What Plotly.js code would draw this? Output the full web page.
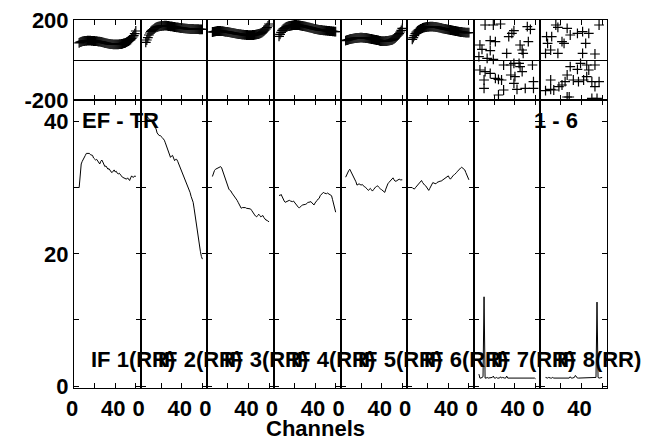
<!DOCTYPE html>
<html>
<head>
<meta charset="utf-8">
<script src="https://cdn.plot.ly/plotly-3.0.1.min.js"></script>
<style>html,body{margin:0;padding:0;background:#fff;}#chart{width:647px;height:442px;}</style>
</head>
<body>
<div id="chart"></div>
<script>
// Channel numbers for the smooth IFs
const channels = [5,6,7,8,9,10,11,12,13,14,15,16,17,18,19,20,21,22,23,24,25,26,27,28,29,30,31,32,33,34,35,36,37,38,39,40,41,42,43,44,45,46,47,48,49,50,51,52,53,54,55,56,57,58,59,60];

// Amplitudes (bottom panels)
const amp1 = [30.0,32.5,33.6,34.0,34.4,34.8,34.9,35.2,35.2,35.1, 35.2,35.0,35.0,34.9,34.5,34.3,34.2,34.3,34.0,33.8, 33.6,34.0,34.2,33.9,33.5,33.2,33.3,33.0,32.8,32.9, 32.6,32.4,32.3,32.6,32.7,32.4,32.5,32.2,32.1,32.2, 31.9,31.8,31.6,31.5,31.4,31.4,31.3,31.5,31.2,31.1, 31.5,31.8,31.6,31.6,31.8,31.7];
const amp2 = [40.9,40.8,40.6,40.5,40.3,40.2,40.0,39.8,39.5,39.2, 38.9,38.3,38.1,37.9,37.9,37.8,37.6,37.4,37.2,36.8, 36.4,35.8,35.3,34.9,34.6,34.8,34.9,34.5,34.1,34.3, 34.3,34.0,33.6,33.2,32.9,32.6,32.3,31.8,31.3,31.0, 30.6,30.3,29.8,29.3,28.7,28.3,27.8,26.8,25.6,24.5, 23.6,22.8,21.3,20.4,19.6,19.2];
const amp3 = [31.7,32.2,32.6,32.8,32.9,33.0,33.1,33.1,33.2,33.0, 32.5,32.0,31.6,31.0,30.6,30.0,29.8,29.6,29.5,29.2, 29.0,28.7,28.5,28.3,28.1,27.8,27.5,27.2,26.9,27.0, 27.0,27.1,27.0,26.9,26.9,26.8,26.8,26.8,26.6,26.3, 26.0,25.9,25.7,25.6,25.8,26.0,25.8,25.6,25.7,25.8, 25.5,25.3,25.1,25.1,24.9,24.9];
const amp4 = [28.9,28.8,29.0,28.6,28.3,28.0,27.8,27.9,28.0,28.1, 28.1,28.0,27.9,27.9,28.0,27.8,27.5,27.3,27.1,27.0, 27.0,27.2,27.3,27.4,27.4,27.5,27.5,27.6,27.8,27.8, 27.9,27.9,27.7,27.6,27.4,27.7,28.0,28.1,28.3,28.4, 28.8,29.0,29.1,29.3,29.2,29.1,29.1,29.2,29.1,29.1, 29.0,28.8,28.2,27.6,27.0,26.3];
const amp5 = [31.6,32.0,32.3,32.6,32.8,32.5,32.2,32.0,31.7,31.3, 30.9,30.4,30.5,30.6,30.5,30.4,30.5,30.3,30.2,30.1, 30.0,29.8,29.6,29.7,29.9,29.7,29.5,29.7,30.0,30.1, 30.2,30.3,30.1,29.9,29.8,29.7,29.6,29.4,29.3,29.8, 30.3,30.6,30.8,31.0,31.1,31.3,31.5,31.2,31.0,31.0, 31.1,31.2,31.3,31.2,31.2,31.2];
const amp6 = [30.0,29.9,29.8,30.0,30.2,30.4,30.6,30.7,30.9,31.1, 30.8,30.5,30.4,30.3,30.1,29.8,29.6,29.9,30.3,30.6, 30.8,30.7,30.6,30.6,30.8,30.9,30.9,31.0,31.0,31.1, 31.2,31.3,31.4,31.5,31.7,31.8,31.5,31.3,31.5,31.8, 31.9,32.0,32.1,32.3,32.5,32.7,32.8,33.0,33.1,33.0, 32.9,32.7,32.3,32.0,31.6,31.2];
const amp7 = [1.8,1.2,1.2,1.3,1.4,13.5,1.2,1.2,1.3,1.2, 1.2,1.3,1.2,1.3,1.5,1.2,1.2,1.3,1.2,1.2, 1.2,1.4,1.2,1.3,1.2,1.2,1.2,1.5,1.2,1.2, 1.3,1.2,1.2,1.2,1.3,1.2,1.2,1.2,1.2,1.3, 1.2,1.2,1.2,1.2,1.2,1.2,1.3,1.2,1.2,1.2, 1.2,1.2,1.2,1.2,1.2,1.1];
const amp8 = [1.3,1.2,1.2,1.3,1.2,1.2,1.2,1.3,1.2,1.2, 1.2,1.2,1.3,1.2,1.2,1.2,1.2,1.2,1.3,1.2, 1.2,1.2,1.3,1.2,1.4,1.2,1.2,1.2,1.3,1.6, 1.3,1.2,1.2,1.2,1.2,1.3,1.2,1.2,1.2,1.2, 1.3,1.2,1.2,1.2,1.2,1.2,1.2,1.2,1.2,1.3, 12.7,1.3,1.2,1.2,1.2,1.3];

// Phases (top panels), degrees
const ph1 = [86,89,91,93,94,95,96,96,97,97, 97,97,96,96,95,95,94,94,93,92, 92,91,90,88,87,85,84,83,82,81, 80,79,79,78,78,78,78,78,78,79, 79,80,81,83,84,86,89,92,95,98, 102,108,115,122,132,145];
const ph2 = [88,100,112,125,135,143,148,152,156,160, 163,165,167,168,169,170,171,171,172,172, 172,171,170,169,168,168,167,166,165,164, 163,163,162,161,160,160,159,158,158,157, 157,156,156,155,155,155,155,154,154,154, 154,154,153,153,153,153];
const ph3 = [140,141,142,143,144,145,145,145,145,144, 144,143,142,141,141,140,139,138,137,136, 135,134,133,132,131,130,129,129,128,127, 127,126,126,125,125,124,124,124,124,125, 125,126,127,128,129,130,132,134,137,141, 145,150,155,162,170,180];
const ph4 = [118,128,138,148,154,158,162,165,167,169, 170,171,172,173,174,175,175,175,174,174, 173,172,171,170,169,168,167,166,164,163, 162,161,159,158,156,155,154,153,152,151, 150,150,149,148,148,147,147,146,146,145, 144,144,143,143,142,142];
const ph5 = [97,99,100,102,104,105,106,107,108,109, 110,110,111,111,112,112,112,111,111,110, 110,109,108,107,106,105,104,103,102,101, 100,99,98,96,95,94,94,94,94,95, 95,96,97,98,99,100,103,106,110,115, 120,126,132,140,148,158];
const ph6 = [103,112,122,132,139,145,149,152,155,157, 160,162,163,164,165,166,166,167,167,167, 167,166,166,165,164,163,162,161,160,158, 157,156,155,154,153,152,151,150,149,148, 147,146,145,144,143,142,141,140,140,139, 138,138,137,137,137,137];
// Scattered phases of IF 7 and IF 8
const ch7 = [11,19,26,37,39,34,52,55,53,45,47,48,16,21,6,8,16,5,13,19,32, 6,11,10,10,16,21,24,27,29,36,39,44,45,47,57,36,40,39,29,24,50,58,58,42];
const ph7 = [175,175,180,133,147,117,167,153,92,75,50,33,97,92,75,53,47,17,8,3,33, -50,-58,-100,-142,-67,-92,-97,-100,-25,-25,-17,-17,-33,-58,-25,-75,-83,-117,-150,-175,-142,-108,-142,-147];
const ch8 = [15,17,26,57,6,11,21,29,36,41,47,44,23,7,10,5,17,41,53, 29,36,47,39,45,53,26,32,37,42,45,50,57,53,50,55,10,5,13,18,21,24,26,28,10];
const ph8 = [175,163,158,175,117,117,92,125,133,142,133,83,83,83,50,33,33,33,30, -33,-47,-50,-17,-25,-25,-75,-100,-108,-100,-83,-108,-108,-133,-192,-192,-147,-153,-150,-133,-125,-108,-185,-185,-100];

const ampSeries = [amp1,amp2,amp3,amp4,amp5,amp6,amp7,amp8];
const phaseX = [channels,channels,channels,channels,channels,channels,ch7,ch8];
const phaseY = [ph1,ph2,ph3,ph4,ph5,ph6,ph7,ph8];
const ifLabels = ['IF 1(RR)','IF 2(RR)','IF 3(RR)','IF 4(RR)','IF 5(RR)','IF 6(RR)','IF 7(RR)','IF 8(RR)'];
const xTickVals = [0,20,40,60];
const xTickText = ['0','','40',''];
const ampTickVals = [0,10,20,30,40];
const ampTickText = ['0','','20','','40'];
const phTickVals = [-200,200];
const phTickText = ['-200','200'];

const W = 647, H = 442;
const L = 74, R = 40, T = 20, B = 54;
const pw = W - L - R, ph = H - T - B;
const split = (388 - 100) / ph;
const FONT = {family: 'Liberation Sans, Arial, sans-serif', size: 22, color: '#000', weight: 'bold'};

const traces = [];
const layout = {
  width: W, height: H,
  margin: {l: L, r: R, t: T, b: B, pad: 0},
  paper_bgcolor: '#fff', plot_bgcolor: '#fff',
  showlegend: false,
  font: FONT,
  annotations: []
};

function baseAxis() {
  return {
    showline: true, linecolor: '#000', linewidth: 1, mirror: 'ticks',
    ticks: 'inside', ticklen: 5, tickwidth: 1, tickcolor: '#000',
    showgrid: false, zeroline: false, tickfont: FONT, fixedrange: true
  };
}

for (let i = 0; i < 8; i++) {
  const a = i + 1, p = i + 9;
  const dom = [i / 8, (i + 1) / 8];
  const ax = (n) => n === 1 ? 'x' : 'x' + n;
  const ay = (n) => n === 1 ? 'y' : 'y' + n;
  const kx = (n) => n === 1 ? 'xaxis' : 'xaxis' + n;
  const ky = (n) => n === 1 ? 'yaxis' : 'yaxis' + n;

  layout[kx(a)] = Object.assign(baseAxis(), {
    domain: dom, anchor: ay(a), range: [0, 64.7],
    tickmode: 'array', tickvals: xTickVals, ticktext: xTickText,
    showticklabels: true, ticklabelstandoff: 1, ticklabelshift: -2
  });
  layout[ky(a)] = Object.assign(baseAxis(), {
    domain: [0, split], anchor: ax(a), range: [-0.3, 43.28],
    tickmode: 'array', tickvals: ampTickVals, ticktext: ampTickText,
    showticklabels: i === 0
  });
  layout[kx(p)] = Object.assign(baseAxis(), {
    domain: dom, anchor: ay(p), range: [0, 64.7],
    tickmode: 'array', tickvals: xTickVals, showticklabels: false
  });
  layout[ky(p)] = Object.assign(baseAxis(), {
    domain: [split, 1], anchor: ax(p), range: [-200, 200],
    tickmode: 'array', tickvals: phTickVals, ticktext: phTickText,
    showticklabels: i === 0,
    zeroline: true, zerolinecolor: '#000', zerolinewidth: 1
  });

  traces.push({
    type: 'scatter', mode: 'lines', x: channels, y: ampSeries[i],
    xaxis: ax(a), yaxis: ay(a), line: {color: '#000', width: 1}, hoverinfo: 'skip'
  });
  traces.push({
    type: 'scatter', mode: 'markers', x: phaseX[i], y: phaseY[i],
    xaxis: ax(p), yaxis: ay(p),
    marker: {symbol: 'cross-thin', size: 7, line: {color: '#000', width: 1.2}},
    hoverinfo: 'skip'
  });

  layout.annotations.push({
    xref: 'paper', yref: 'paper', x: (15 + 66.625 * i) / pw, y: (388 - 359) / ph,
    xanchor: 'left', yanchor: 'middle', showarrow: false, text: ifLabels[i], font: FONT
  });
}

layout.annotations.push({
  xref: 'paper', yref: 'paper', x: (80 - L) / pw, y: (388 - 120) / ph,
  xanchor: 'left', yanchor: 'middle', showarrow: false, text: 'EF - TR', font: FONT
});
layout.annotations.push({
  xref: 'paper', yref: 'paper', x: (580 - L) / pw, y: (388 - 120) / ph,
  xanchor: 'right', yanchor: 'middle', showarrow: false, text: '1 - 6', font: FONT
});
layout.annotations.push({
  xref: 'paper', yref: 'paper', x: (315 - L) / pw, y: (388 - 428) / ph,
  xanchor: 'center', yanchor: 'middle', showarrow: false, text: 'Channels', font: FONT
});

Plotly.newPlot('chart', traces, layout, {staticPlot: true, displayModeBar: false});
</script>
</body>
</html>
